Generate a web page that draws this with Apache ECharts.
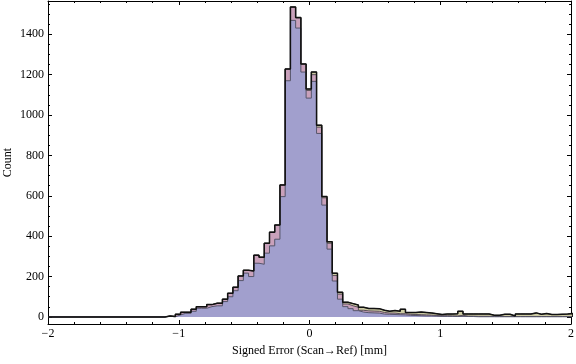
<!DOCTYPE html>
<html>
<head>
<meta charset="utf-8">
<script src="https://cdn.jsdelivr.net/npm/echarts@6/dist/echarts.min.js"></script>
<style>
html,body{margin:0;padding:0;background:#fff;}
#hist{width:576px;height:364px;}
</style>
</head>
<body>
<div id="hist"></div>
<script>
//直方图分箱
var binStart = -1.106;
var binWidth = 0.04;
//外层(总数)
var totalCounts = [5, 2, 13, 23, 23, 38, 51, 51, 61, 68, 68, 88, 117, 147, 203, 231, 228, 306, 296, 365, 420, 455, 654,
	1228, 1535, 1483, 1253, 1129, 1213, 950, 596, 373, 217, 122, 73, 66, 59,
	48, 42, 42, 41, 33, 28, 32, 28, 38, 22, 22, 24, 22, 20, 16, 12, 14, 14, 16, 28,
	15, 15, 15, 15, 15, 8, 8, 13, 13, 5, 15, 15, 15, 20, 13, 17, 12, 12, 13, 14, 17];
//中层
var midCounts = [5, 2, 13, 23, 23, 38, 51, 51, 61, 68, 68, 88, 117, 147, 203, 231, 228, 306, 296, 365, 420, 455, 654,
	1228, 1535, 1481, 1253, 1122, 1200, 940, 590, 365, 205, 113, 64, 55, 48,
	33, 30, 29, 28, 22, 19, 19, 16, 16, 13, 12, 11, 10, 9, 7, 6, 6, 5, 5, 8,
	4, 4, 3, 3, 3, 2, 2, 2, 2, 2, 2, 2, 2, 2, 2, 2, 2, 2, 2, 2, 2];
//底层
var lowCounts = [3, 1, 10, 18, 18, 28, 43, 43, 51, 55, 55, 76, 100, 130, 180, 217, 200, 266, 261, 316, 352, 385, 596,
	1170, 1469, 1431, 1213, 1084, 1167, 909, 554, 336, 178, 88, 51, 41, 31,
	24, 21, 20, 19, 14, 13, 12, 11, 10, 8, 7, 6, 5, 5, 4, 3, 3, 3, 2, 3,
	2, 2, 1, 1, 1, 1, 1, 1, 1, 1, 1, 1, 1, 1, 1, 1, 1, 1, 1, 1, 1];
var xTicks = [-2, -1, 0, 1, 2];

var font = 'Liberation Serif';

//转成阶梯线的点
function stepPoints(counts){
	var pts = [[-2, 0]];
	for (var i = 0; i < counts.length; i++) {
		pts.push([binStart + i * binWidth, counts[i]]);
	}
	pts.push([binStart + counts.length * binWidth, 0]);
	return pts;
}

function layer(data, fill, edge, w){
	return {
		type: 'line',
		step: 'end',
		symbol: 'none',
		silent: true,
		data: data,
		lineStyle: {color: edge, width: w},
		areaStyle: fill ? {color: fill, opacity: 1} : null
	};
}

var chart = echarts.init(document.getElementById('hist'), null, {renderer: 'canvas'});

var tickStyle = {show: true, inside: true, length: 4, lineStyle: {color: '#000', width: 1}};
var lineStyle = {show: true, onZero: false, lineStyle: {color: '#000', width: 1}};

var option = {
	animation: false,
	grid: {left: 48, right: 5, top: 1, bottom: 40, containLabel: false, outerBoundsMode: 'none'},
	xAxis: [{
		type: 'value', min: -2, max: 2, interval: 1,
		name: 'Signed Error (Scan\u2192Ref) [mm]', nameLocation: 'middle', nameGap: 21, nameMoveOverlap: false,
		nameTextStyle: {fontFamily: font, fontSize: 12, color: '#000'},
		axisLine: lineStyle, axisTick: tickStyle,
		minorTick: {show: true, splitNumber: 5, length: 2, lineStyle: {color: '#000', width: 1}},
		splitLine: {show: false},
		axisLabel: {margin: 4, fontFamily: font, fontSize: 12, color: '#000',
			formatter: function(v){ return xTicks.indexOf(v) >= 0 ? String(v).replace('-', '\u2212') : ''; }}
	}, {
		type: 'value', min: -2, max: 2, interval: 1, position: 'top',
		axisLine: lineStyle, axisTick: tickStyle,
		minorTick: {show: true, splitNumber: 5, length: 2, lineStyle: {color: '#000', width: 1}},
		splitLine: {show: false}, axisLabel: {show: false}
	}],
	yAxis: [{
		type: 'value', min: -35, max: 1565, splitNumber: 8, minInterval: 200, maxInterval: 200,
		name: 'Count', nameLocation: 'middle', nameGap: 34, nameMoveOverlap: false,
		nameTextStyle: {fontFamily: font, fontSize: 12, color: '#000'},
		axisLine: lineStyle, axisTick: tickStyle,
		minorTick: {show: true, splitNumber: 4, length: 2, lineStyle: {color: '#000', width: 1}},
		splitLine: {show: false},
		axisLabel: {margin: 4, fontFamily: font, fontSize: 12, color: '#000', showMinLabel: false, showMaxLabel: false,
			formatter: function(v){ return String(v); }}
	}, {
		type: 'value', min: -35, max: 1565, splitNumber: 8, minInterval: 200, maxInterval: 200, position: 'right',
		axisLine: lineStyle, axisTick: tickStyle,
		minorTick: {show: true, splitNumber: 4, length: 2, lineStyle: {color: '#000', width: 1}},
		splitLine: {show: false}, axisLabel: {show: false}
	}],
	series: [
		layer(stepPoints(totalCounts), '#cdcba3', '#4a4a40', 1),
		layer(stepPoints(midCounts), '#c9a1bb', '#5a5058', 1),
		layer(stepPoints(lowCounts), '#a19fcd', '#55556a', 1),
		layer(stepPoints(totalCounts), null, '#111', 1.5)
	]
};

chart.setOption(option);
</script>
</body>
</html>
